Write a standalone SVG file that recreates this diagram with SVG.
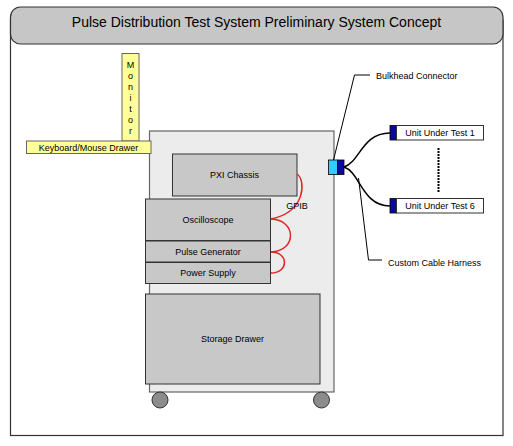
<svg xmlns="http://www.w3.org/2000/svg" width="513" height="446" viewBox="0 0 513 446">
<style>
text{font-family:"Liberation Sans",Arial,sans-serif;font-size:9px;fill:#000}
.box{fill:#c8c8c8;stroke:#333;stroke-width:1}
.yel{fill:#ffff99;stroke:#666;stroke-width:1}
.red{fill:none;stroke:#e02626;stroke-width:1.5}
.lead{fill:none;stroke:#000;stroke-width:1}
.cable{fill:none;stroke:#000;stroke-width:1.5}
.uut{fill:#fff;stroke:#333;stroke-width:1}
.dk{fill:#0a0aa0;stroke:#000;stroke-width:0.8}
</style>
<rect width="513" height="446" fill="#fff"/>
<g id="frame">
<rect x="10.5" y="20" width="492.5" height="415.5" fill="#fff" stroke="#333" stroke-width="1.2"/>
<rect x="10.5" y="7" width="492.5" height="37" rx="10" ry="10" fill="#c6c6c6" stroke="#333" stroke-width="1.2"/>
<text x="256.5" y="27" text-anchor="middle" style="font-size:14px">Pulse Distribution Test System Preliminary System Concept</text>
</g>
<g id="cabinet">
<rect x="149.5" y="131" width="184.5" height="261" fill="#ececec" stroke="#666" stroke-width="1.2"/>
<circle cx="160" cy="400" r="8" fill="#8c8c8c" stroke="#333" stroke-width="1"/>
<circle cx="321.5" cy="400" r="8" fill="#8c8c8c" stroke="#333" stroke-width="1"/>
</g>
<g id="monitor">
<rect class="yel" x="122" y="53.5" width="17" height="87.5"/>
<text x="130.5" y="68" text-anchor="middle">M</text>
<text x="130.5" y="79" text-anchor="middle">o</text>
<text x="130.5" y="90" text-anchor="middle">n</text>
<text x="130.5" y="101" text-anchor="middle">i</text>
<text x="130.5" y="112" text-anchor="middle">t</text>
<text x="130.5" y="123" text-anchor="middle">o</text>
<text x="130.5" y="134" text-anchor="middle">r</text>
</g>
<g id="keyboard">
<rect class="yel" x="26.5" y="141" width="124.5" height="12.5"/>
<text x="88.5" y="150.5" text-anchor="middle">Keyboard/Mouse Drawer</text>
</g>
<g id="pxi">
<rect class="box" x="172.5" y="154" width="124.5" height="42"/>
<text x="234.5" y="178" text-anchor="middle">PXI Chassis</text>
</g>
<g id="oscilloscope">
<rect class="box" x="145.5" y="199" width="125" height="41.5"/>
<text x="208" y="223" text-anchor="middle">Oscilloscope</text>
</g>
<g id="pulsegen">
<rect class="box" x="145.5" y="241" width="125" height="21"/>
<text x="208" y="255" text-anchor="middle">Pulse Generator</text>
</g>
<g id="power">
<rect class="box" x="145.5" y="262.5" width="125" height="21"/>
<text x="208" y="276" text-anchor="middle">Power Supply</text>
</g>
<g id="storage">
<rect class="box" x="145.5" y="294" width="174.5" height="90" stroke="#555"/>
<text x="232.5" y="342" text-anchor="middle">Storage Drawer</text>
</g>
<g id="bulkhead">
<rect x="328.5" y="160" width="9" height="14.5" fill="#33ccff" stroke="#000" stroke-width="0.8"/>
<rect class="dk" x="337.5" y="160" width="6.5" height="14.5"/>
</g>
<g id="uut1">
<rect class="dk" x="390" y="125.5" width="6.5" height="14.5"/>
<rect class="uut" x="396.5" y="125.5" width="87" height="14.5"/>
<text x="440" y="136" text-anchor="middle">Unit Under Test 1</text>
</g>
<g id="uut6">
<rect class="dk" x="390" y="198.5" width="6.5" height="14.5"/>
<rect class="uut" x="396.5" y="198.5" width="87" height="14.5"/>
<text x="440" y="209" text-anchor="middle">Unit Under Test 6</text>
</g>
<g id="connectors">
<path class="red" d="M297,174 C306,180 306,212 271,219"/>
<path class="red" d="M271,219 C297,220 297,251 271,252"/>
<path class="red" d="M271,252 C289,252 289,273 271,273"/>
<path class="cable" d="M344,167 C360,162 362,133 390,133"/>
<path class="cable" d="M344,167 C360,172 362,206 390,206"/>
<path class="lead" d="M333.5,160 L354.5,75 L370,75"/>
<path class="lead" d="M358.5,178 L368.5,260 L382,260"/>
<line x1="438.5" y1="148" x2="438.5" y2="192" stroke="#000" stroke-width="2" stroke-dasharray="2,1"/>
</g>
<g id="labels">
<text x="297" y="209" text-anchor="middle">GPIB</text>
<text x="376" y="78.5">Bulkhead Connector</text>
<text x="388" y="266">Custom Cable Harness</text>
</g>
</svg>
